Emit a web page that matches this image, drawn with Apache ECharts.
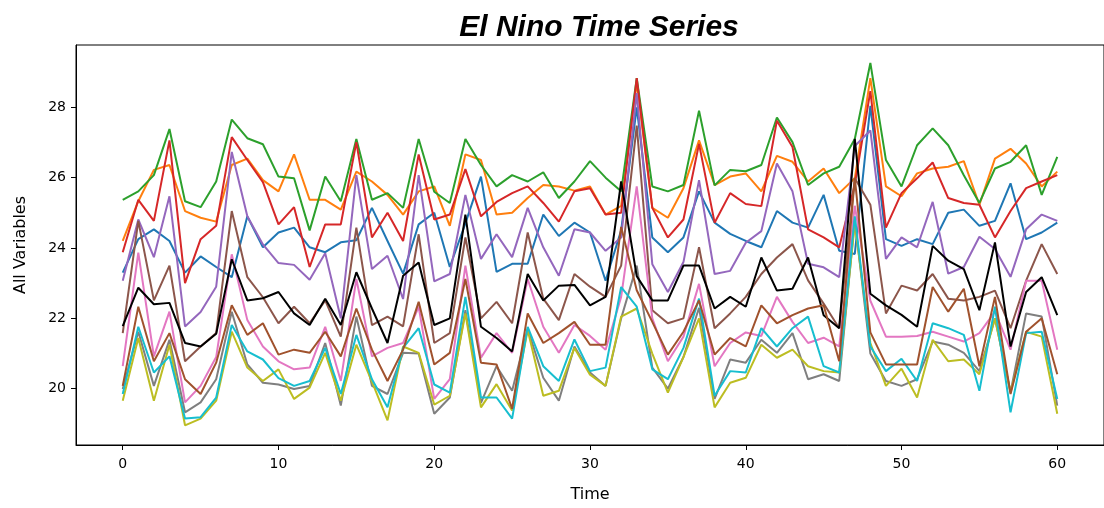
<!DOCTYPE html>
<html>
<head>
<meta charset="utf-8">
<script src="https://cdn.jsdelivr.net/npm/echarts@6/dist/echarts.min.js"></script>
<style>
  html, body { margin: 0; padding: 0; background: #fff; }
  #chart { width: 1104px; height: 508px; }
</style>
</head>
<body>
<div id="chart"></div>
<script>
// Time steps (x axis)
const time = [0,1,2,3,4,5,6,7,8,9,10,11,12,13,14,15,16,17,18,19,20,21,22,23,24,25,26,27,28,29,30,
  31,32,33,34,35,36,37,38,39,40,41,42,43,44,45,46,47,48,49,50,51,52,53,54,55,56,57,58,59,60];

const xTicks = [0, 10, 20, 30, 40, 50, 60];
const yTicks = [20, 22, 24, 26, 28];

// One array per variable
const seriesBlue = [23.3,24.25,24.53,24.2,23.3,23.76,23.46,23.17,24.9,24.02,24.44,24.58,24.02,23.88,24.16,24.22,25.14,24.2,23.27,24.67,25.0,
  23.46,24.7,26.03,23.32,23.55,23.55,24.95,24.34,24.72,24.44,23.07,24.5,28.0,24.3,23.88,24.3,25.61,24.72,24.4,24.2,
  24.02,25.05,24.72,24.58,25.51,23.92,23.83,28.04,24.25,24.06,24.25,24.11,25.0,25.09,24.63,24.77,25.84,24.25,24.44,24.72];
const seriesOrange = [24.2,25.33,26.22,26.36,25.05,24.86,24.75,26.36,26.54,25.93,25.61,26.66,25.37,25.37,25.09,26.17,25.89,25.51,24.95,25.61,25.75,
  24.63,26.66,26.5,24.95,25.0,25.42,25.79,25.75,25.63,25.75,24.95,25.2,28.7,25.14,24.86,25.7,27.06,25.79,26.03,26.12,
  25.61,26.62,26.45,25.89,26.26,25.56,25.98,28.83,25.75,25.47,26.12,26.26,26.31,26.47,25.23,26.54,26.82,26.4,25.75,26.17];
const seriesGreen = [25.37,25.61,26.07,27.38,25.33,25.16,25.89,27.65,27.12,26.95,26.03,25.98,24.5,26.03,25.33,27.1,25.37,25.56,25.14,27.1,25.6,
  25.28,27.1,26.36,25.75,26.07,25.89,26.15,25.42,25.89,26.47,26.0,25.61,28.83,25.75,25.61,25.79,27.9,25.78,26.22,26.18,
  26.36,27.71,27.01,25.79,26.12,26.31,27.1,29.26,26.5,25.75,26.92,27.4,26.92,26.07,25.28,26.26,26.45,26.92,25.51,26.59];
const seriesRed = [23.88,25.37,24.77,27.06,23.0,24.25,24.63,27.15,26.5,25.87,24.67,25.16,23.46,24.67,24.67,27.01,24.3,25.0,24.2,26.66,24.81,
  24.95,26.24,24.9,25.31,25.56,25.75,25.28,24.75,25.61,25.7,24.95,25.0,28.83,25.14,24.3,24.81,26.96,24.72,25.56,25.25,
  25.19,27.62,26.87,24.53,24.3,24.02,25.8,28.46,24.58,25.56,25.98,26.43,25.42,25.28,25.23,24.3,25.05,25.7,25.89,26.07];
const seriesPurple = [23.07,24.81,23.74,25.47,21.77,22.18,22.9,26.73,24.9,24.1,23.57,23.52,23.1,23.85,22.0,26.07,23.4,23.78,22.55,26.07,23.05,
  23.26,25.51,23.69,24.39,23.74,25.14,24.02,23.21,24.53,24.44,23.92,24.3,28.4,23.54,22.75,23.6,25.93,23.26,23.35,24.15,
  24.48,26.4,25.61,23.55,23.45,23.17,26.9,27.34,23.69,24.3,24.02,25.31,23.27,23.46,24.32,23.97,23.18,24.53,24.95,24.77];
const seriesBrown = [21.58,24.77,22.51,23.5,20.78,21.2,21.58,25.05,23.17,22.6,21.86,22.33,21.86,22.51,21.48,24.58,21.81,22.05,21.77,24.39,21.3,
  21.58,24.3,22.0,22.47,21.86,24.44,22.56,21.95,23.26,22.9,22.61,23.5,27.48,22.23,21.86,22.0,24.02,21.72,22.14,22.61,
  23.26,23.73,24.11,23.08,22.42,21.72,25.98,25.23,22.14,22.93,22.79,23.26,22.56,22.51,22.61,22.79,21.72,23.07,24.11,23.26];
const seriesPink = [20.64,23.87,20.92,22.19,19.61,20.08,20.9,23.82,21.95,21.2,20.78,20.55,20.6,21.76,20.22,23.12,20.92,21.16,21.3,22.33,19.71,
  20.27,23.5,20.88,21.58,21.02,23.12,21.76,21.02,21.81,21.5,21.11,22.61,25.75,22.0,20.78,21.48,22.98,20.64,21.3,21.6,
  21.5,22.61,21.9,21.3,21.45,21.2,25.2,22.5,21.48,21.48,21.5,21.62,21.48,21.34,21.58,22.19,21.11,23.07,23.07,21.11];
const seriesGray = [19.99,21.62,20.08,21.39,19.33,19.61,20.27,22.19,20.69,20.17,20.12,19.99,20.08,21.3,19.52,22.05,20.08,19.85,21.02,21.0,19.29,
  19.75,22.23,19.6,20.64,19.94,21.7,20.31,19.66,21.2,20.46,20.08,22.0,23.5,20.6,20.0,20.9,22.3,19.71,20.83,20.74,
  21.39,21.02,21.58,20.27,20.41,20.22,24.8,21.0,20.22,20.08,20.27,21.34,21.25,21.02,20.5,22.0,19.9,22.14,22.05,19.52];
const seriesOlive = [19.66,21.44,19.66,21.25,18.96,19.15,19.66,21.62,20.6,20.22,20.55,19.71,20.03,21.02,19.66,21.25,20.2,19.1,21.2,21.02,19.55,
  19.8,22.14,19.47,20.13,19.38,21.67,19.8,19.94,21.16,20.4,20.08,22.05,22.28,21.0,19.89,20.9,22.0,19.47,20.17,20.31,
  21.25,20.88,21.11,20.64,20.5,20.46,24.7,21.3,20.08,20.57,19.75,21.39,20.78,20.83,20.41,22.0,19.89,21.62,21.48,19.29];
const seriesCyan = [19.85,21.76,20.46,20.92,19.15,19.19,19.75,21.81,21.06,20.83,20.3,20.08,20.22,21.16,19.85,21.53,20.27,19.47,21.16,21.72,20.12,
  19.89,22.61,19.75,19.75,19.15,21.76,20.64,20.22,21.4,20.5,20.6,22.89,22.33,20.55,20.27,21.16,22.56,19.8,20.5,20.46,
  21.72,21.2,21.72,22.05,20.64,20.46,24.9,21.2,20.5,20.85,20.22,21.86,21.72,21.53,19.94,22.33,19.33,21.58,21.62,19.71];
const seriesBlack = [21.78,22.87,22.4,22.44,21.3,21.2,21.56,23.68,22.51,22.57,22.75,22.14,21.81,22.56,21.81,23.31,22.28,21.3,23.21,23.59,21.81,
  22.0,24.95,21.76,21.44,21.06,23.26,22.51,22.93,22.95,22.37,22.61,25.89,23.2,22.51,22.51,23.5,23.5,22.28,22.61,22.33,
  23.73,22.79,22.84,23.73,22.09,21.72,27.1,22.7,22.37,22.1,21.76,24.06,23.64,23.4,22.23,24.16,21.2,22.75,23.17,22.09];
const seriesSienna = [20.08,22.33,20.78,21.58,20.27,19.85,20.74,22.37,21.53,21.86,20.97,21.11,21.02,21.62,20.92,22.28,21.11,20.22,21.11,22.47,20.69,
  21.02,23.12,20.74,20.69,19.43,22.14,21.3,21.58,21.9,21.25,21.25,24.6,22.8,21.9,20.97,21.62,22.51,20.97,21.44,21.2,
  22.37,21.86,22.09,22.28,22.37,20.78,26.0,21.6,20.69,20.69,20.69,22.89,22.19,22.84,20.64,22.61,19.85,21.62,22.0,20.41];

const seriesList = [
  { values: seriesBlue,   color: '#1f77b4' },
  { values: seriesOrange, color: '#ff7f0e' },
  { values: seriesGreen,  color: '#2ca02c' },
  { values: seriesRed,    color: '#d62728' },
  { values: seriesPurple, color: '#9467bd' },
  { values: seriesBrown,  color: '#8c564b' },
  { values: seriesPink,   color: '#e377c2' },
  { values: seriesGray,   color: '#7f7f7f' },
  { values: seriesOlive,  color: '#bcbd22' },
  { values: seriesCyan,   color: '#17becf' },
  { values: seriesBlack,  color: '#000000' },
  { values: seriesSienna, color: '#a0522d' }
];

const chart = echarts.init(document.getElementById('chart'), null, { renderer: 'canvas' });

const tickFont = { fontFamily: 'DejaVu Sans', fontSize: 14, color: '#000' };
const labelFont = { fontFamily: 'DejaVu Sans', fontSize: 16, color: '#000' };

chart.setOption({
  animation: false,
  backgroundColor: '#fff',
  title: {
    text: 'El Nino Time Series',
    left: 594,
    top: 8,
    textAlign: 'center',
    textStyle: { fontFamily: 'Liberation Sans', fontSize: 30, fontWeight: 'bold', fontStyle: 'italic', color: '#000' }
  },
  grid: {
    left: 76, right: -8, top: 45, bottom: 58,
    show: true, borderColor: '#000', borderWidth: 1, backgroundColor: 'transparent'
  },
  xAxis: {
    type: 'value',
    min: -3, max: 63,
    name: 'Time',
    nameLocation: 'middle',
    nameGap: 42,
    nameTextStyle: labelFont,
    axisLine: { show: true, onZero: false, lineStyle: { color: '#000', width: 1 } },
    axisTick: { show: true, length: 5, lineStyle: { color: '#000' }, customValues: xTicks },
    axisLabel: Object.assign({ margin: 12, customValues: xTicks }, tickFont),
    splitLine: { show: false }
  },
  yAxis: {
    type: 'value',
    min: 18.4, max: 29.77,
    name: 'All Variables',
    nameLocation: 'middle',
    nameGap: 47,
    nameTextStyle: labelFont,
    axisLine: { show: true, onZero: false, lineStyle: { color: '#000', width: 1 } },
    axisTick: { show: true, length: 5, lineStyle: { color: '#000' }, customValues: yTicks },
    axisLabel: Object.assign({ margin: 10, customValues: yTicks }, tickFont),
    splitLine: { show: false }
  },
  series: seriesList.map(s => ({
    type: 'line',
    data: time.map((t, i) => [t, s.values[i]]),
    symbol: 'none',
    lineStyle: { color: s.color, width: 2 },
    itemStyle: { color: s.color },
    emphasis: { disabled: true }
  }))
});
</script>
</body>
</html>
